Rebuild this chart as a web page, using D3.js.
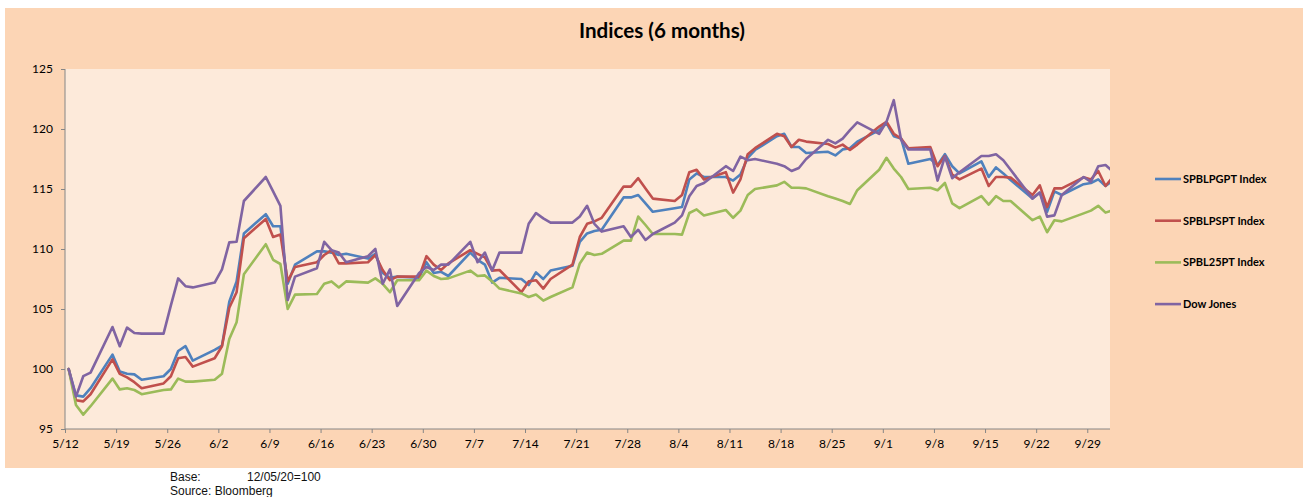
<!DOCTYPE html>
<html lang="en">
<head>
<meta charset="utf-8">
<title>Indices (6 months)</title>
<script src="https://d3js.org/d3.v7.min.js"></script>
<style>
    body { margin: 0; background: #ffffff; }
    .axis line { stroke: #868686; }
    .axis text { font-family: Lato, sans-serif; font-size: 12px; fill: #000; }
</style>
</head>
<body>
<div id="chart"></div>
<script>

// trading days (2020)
var dates = ["5/12","5/13","5/14","5/15","5/18","5/19","5/20","5/21","5/22","5/25","5/26","5/27","5/28","5/29",
    "6/1","6/2","6/3","6/4","6/5","6/8","6/9","6/10","6/11","6/12","6/15","6/16","6/17","6/18","6/19","6/22","6/23","6/24","6/25","6/26","6/29","6/30",
    "7/1","7/2","7/3","7/6","7/7","7/8","7/9","7/10","7/13","7/14","7/15","7/16","7/17","7/20","7/21","7/22","7/23","7/24","7/27","7/28","7/29","7/30","7/31",
    "8/3","8/4","8/5","8/6","8/7","8/10","8/11","8/12","8/13","8/14","8/17","8/18","8/19","8/20","8/21","8/24","8/25","8/26","8/27","8/28","8/31",
    "9/1","9/2","9/3","9/4","9/7","9/8","9/9","9/10","9/11","9/14","9/15","9/16","9/17","9/18","9/21","9/22","9/23","9/24","9/25","9/28","9/29","9/30",
    "10/1","10/2"];

var spblpgpt = [100, 97.8, 97.7, 98.4, 101.2, 99.8, 99.6, 99.55, 99.1, 99.4, 100.0, 101.5, 101.9, 100.7,
    101.6, 101.95, 105.6, 107.3, 111.3, 112.9, 111.9, 111.9, 107.1, 108.7, 109.8, 109.8, 109.7, 109.5, 109.6, 109.2, 109.6, 108.0, 107.6, 107.7, 107.6, 108.9,
    108.0, 108.1, 107.75, 109.7, 109.1, 108.7, 107.2, 107.6, 107.5, 107.0, 108.05, 107.5, 108.2, 108.6, 110.6, 111.3, 111.5, 111.6, 114.3, 114.3, 114.5, 113.8, 113.1,
    113.4, 113.5, 115.8, 116.3, 116.0, 116.0, 115.7, 116.2, 117.6, 118.25, 119.4, 119.6, 118.5, 118.5, 118.0, 118.1, 117.8, 118.3, 118.4, 118.95, 119.9,
    120.5, 119.4, 119.2, 117.1, 117.5, 117.0, 117.9, 116.9, 116.3, 117.3, 116.0, 116.8, 116.3, 115.75, 114.2, 114.7, 113.1, 114.8, 114.5, 115.4, 115.5, 115.8,
    115.25, 115.7];

var spblpspt = [100, 97.4, 97.3, 97.9, 100.8, 99.6, 99.3, 98.9, 98.4, 98.8, 99.4, 100.9, 101.0, 100.2,
    100.9, 101.9, 105.1, 106.4, 110.9, 112.5, 111.0, 111.2, 107.3, 108.5, 108.9, 109.5, 109.9, 108.8, 108.8, 108.9, 109.5, 108.25, 107.4, 107.7, 107.7, 109.4,
    108.7, 108.25, 108.8, 109.9, 109.6, 109.3, 108.2, 108.25, 106.4, 107.3, 107.4, 106.7, 107.5, 108.7, 111.0, 112.1, 112.3, 112.6, 115.2, 115.2, 115.9, 115.05, 114.2,
    114.0, 114.5, 116.4, 116.6, 115.8, 116.4, 114.7, 115.8, 117.9, 118.4, 119.6, 119.4, 118.5, 119.1, 118.95, 118.75, 118.45, 118.7, 118.25, 118.7, 120.2,
    120.6, 119.6, 119.2, 118.4, 118.5, 116.9, 117.75, 116.2, 115.8, 116.7, 115.25, 116.0, 116.0, 115.95, 114.5, 115.3, 113.5, 115.05, 115.05, 115.97, 115.8, 116.5,
    115.25, 116.0];

var spbl25pt = [100, 97.0, 96.2, 96.9, 99.2, 98.3, 98.4, 98.25, 97.9, 98.25, 98.3, 99.2, 98.95, 98.95,
    99.1, 99.6, 102.5, 103.9, 107.9, 110.4, 109.1, 108.75, 105.0, 106.2, 106.25, 107.1, 107.3, 106.8, 107.3, 107.2, 107.55, 107.1, 106.4, 107.4, 107.4, 108.2,
    107.75, 107.5, 107.55, 108.2, 107.75, 107.8, 107.3, 106.7, 106.3, 106.0, 106.2, 105.7, 106.0, 106.8, 108.8, 109.7, 109.5, 109.6, 110.7, 110.7, 112.7, 112.0, 111.25,
    111.25, 111.2, 113.0, 113.3, 112.8, 113.25, 112.6, 113.2, 114.5, 115.0, 115.3, 115.6, 115.1, 115.1, 115.05, 114.4, 114.2, 114.0, 113.75, 114.9, 116.6,
    117.6, 116.7, 116.0, 115.0, 115.1, 114.9, 115.5, 113.8, 113.4, 114.4, 113.7, 114.4, 114.0, 114.0, 112.4, 112.7, 111.4, 112.4, 112.3, 112.97, 113.2, 113.6,
    113.03, 113.25];

var dowJones = [100, 97.7, 99.4, 99.7, 103.5, 101.9, 103.45, 103.0, 102.95, 102.95, 105.3, 107.55, 106.9, 106.8,
    107.2, 108.3, 110.55, 110.6, 114.0, 116.0, 114.8, 113.6, 105.75, 107.7, 108.4, 110.6, 109.9, 109.7, 108.9, 109.4, 110.0, 107.1, 108.3, 105.25, 108.0, 108.5,
    108.25, 108.7, 108.7, 110.6, 108.9, 109.7, 108.2, 109.7, 109.7, 112.1, 113.0, 112.55, 112.2, 112.2, 112.7, 113.6, 112.1, 111.45, 111.9, 111.0, 111.6, 110.75, 111.25,
    112.2, 112.8, 114.4, 115.25, 115.5, 116.9, 116.5, 117.7, 117.4, 117.5, 117.1, 116.9, 116.5, 116.75, 117.5, 119.1, 118.8, 119.2, 119.9, 120.55, 119.6,
    120.6, 122.4, 119.1, 118.3, 118.3, 115.7, 117.7, 115.9, 116.4, 117.75, 117.75, 117.9, 117.4, 116.6, 114.2, 114.7, 112.7, 112.8, 114.5, 116.0, 115.6, 116.9,
    117.0, 116.45];

var seriesNames = ["SPBLPGPT Index", "SPBLPSPT Index", "SPBL25PT Index", "Dow Jones"];
var seriesColors = ["#4f81bd", "#c0504d", "#9bbb59", "#8064a2"];

var tickLabels = ["5/12","5/19","5/26","6/2","6/9","6/16","6/23","6/30","7/7","7/14","7/21","7/28",
    "8/4","8/11","8/18","8/25","9/1","9/8","9/15","9/22","9/29"];
var yTicks = [95, 100, 105, 110, 115, 120, 125];

// size of the page and of the plot area
var w = 1303;
var h = 497;
var plot = { left: 65, top: 69, right: 1110, bottom: 429 };

var parse = d3.timeParse("%m/%d/%Y");
function toDate(s) { return parse(s + "/2020"); }

var series = [spblpgpt, spblpspt, spbl25pt, dowJones].map(function (vals, i) {
    return {
        name: seriesNames[i],
        color: seriesColors[i],
        // excel draws each day in the middle of its slot
        points: vals.map(function (v, j) {
            return { date: d3.timeHour.offset(toDate(dates[j]), 12), value: v };
        })
    };
});

var svg = d3.select('#chart')
    .append('svg')
    .attr('width', w)
    .attr('height', h);

// outer chart background
svg.append('rect')
    .attr('x', 5).attr('y', 8)
    .attr('width', w - 5).attr('height', 460)
    .attr('fill', '#fcd5b5');

// plot area
svg.append('rect')
    .attr('x', plot.left).attr('y', plot.top)
    .attr('width', plot.right - plot.left).attr('height', plot.bottom - plot.top)
    .attr('fill', '#fdeada');

svg.append('clipPath').attr('id', 'clip')
    .append('rect')
    .attr('x', plot.left).attr('y', plot.top - 10)
    .attr('width', plot.right - plot.left).attr('height', plot.bottom - plot.top + 20);

// scales
var x = d3.scaleTime()
    .domain([toDate("5/12"), toDate("10/3")])
    .range([plot.left, plot.left + 144 * 7.302]);

var y = d3.scaleLinear()
    .domain([95, 125])
    .range([plot.bottom, plot.top]);

// title
svg.append('text')
    .attr('x', 662).attr('y', 38)
    .attr('text-anchor', 'middle')
    .style('font-family', 'Lato, sans-serif')
    .style('font-weight', 'bold')
    .style('font-size', '20.6px')
    .text('Indices (6 months)');

// axes
var yAxis = d3.axisLeft(y)
    .tickValues(yTicks)
    .tickSize(4)
    .tickSizeOuter(0)
    .tickPadding(8);

var xAxis = d3.axisBottom(x)
    .tickValues(tickLabels.map(toDate))
    .tickFormat(function (d, i) { return tickLabels[i]; })
    .tickSize(4)
    .tickSizeOuter(0)
    .tickPadding(6);

var gy = svg.append('g')
    .attr('class', 'axis')
    .attr('transform', 'translate(' + plot.left + ',0)')
    .call(yAxis);
gy.select('.domain').remove();

var gx = svg.append('g')
    .attr('class', 'axis')
    .attr('transform', 'translate(0,' + plot.bottom + ')')
    .call(xAxis);
gx.select('.domain').remove();

// axis lines
svg.append('line')
    .attr('x1', plot.left).attr('x2', plot.left)
    .attr('y1', plot.top).attr('y2', plot.bottom)
    .attr('stroke', '#868686');
svg.append('line')
    .attr('x1', plot.left).attr('x2', plot.right)
    .attr('y1', plot.bottom).attr('y2', plot.bottom)
    .attr('stroke', '#868686');

// lines
var line = d3.line()
    .x(function (d) { return x(d.date); })
    .y(function (d) { return y(d.value); });

svg.append('g')
    .attr('clip-path', 'url(#clip)')
    .selectAll('path')
    .data(series)
    .enter()
    .append('path')
    .attr('d', function (d) { return line(d.points); })
    .attr('fill', 'none')
    .attr('stroke', function (d) { return d.color; })
    .attr('stroke-width', 2.6)
    .attr('stroke-linejoin', 'round')
    .attr('stroke-linecap', 'round');

// legend
var legend = svg.append('g')
    .attr('transform', 'translate(1155,179)');

var item = legend.selectAll('g')
    .data(series)
    .enter()
    .append('g')
    .attr('transform', function (d, i) { return 'translate(0,' + (i * 41.7) + ')'; });

item.append('line')
    .attr('x1', 0).attr('x2', 26)
    .attr('stroke', function (d) { return d.color; })
    .attr('stroke-width', 2.6);

item.append('text')
    .attr('x', 28)
    .attr('dy', '0.35em')
    .style('font-family', 'Lato, sans-serif')
    .style('font-weight', 'bold')
    .style('font-size', '11px')
    .text(function (d) { return d.name; });

// footnote
var foot = svg.append('g')
    .style('font-family', '"Liberation Sans", Arial, sans-serif')
    .style('font-size', '12px')
    .style('fill', '#111');
foot.append('text').attr('x', 170).attr('y', 481).text('Base:');
foot.append('text').attr('x', 247).attr('y', 481).text('12/05/20=100');
foot.append('text').attr('x', 170).attr('y', 495).text('Source: Bloomberg');

</script>
</body>
</html>
